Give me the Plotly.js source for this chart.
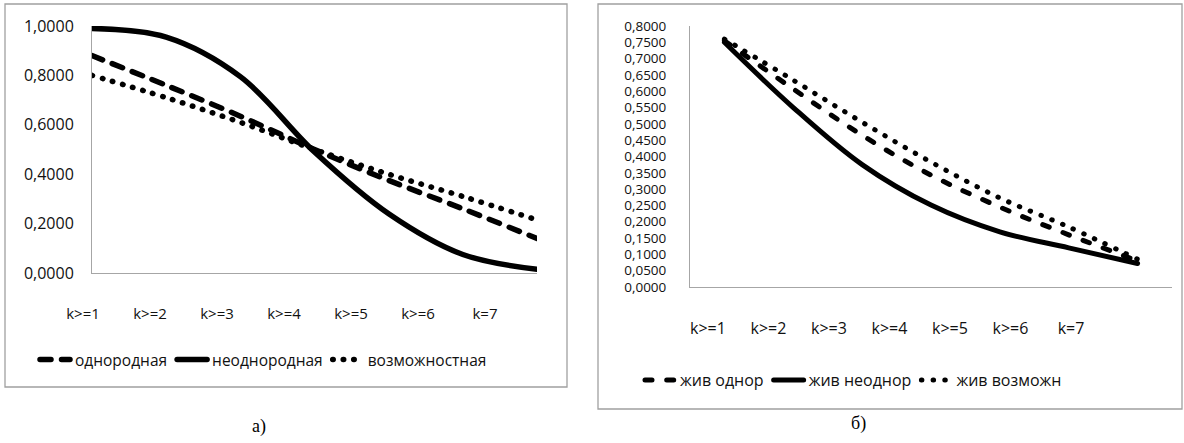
<!DOCTYPE html>
<html><head><meta charset="utf-8">
<script src="https://cdn.plot.ly/plotly-3.0.1.min.js"></script>
<style>
html,body{margin:0;padding:0;background:#fff}
#chart{width:1184px;height:443px}
path.js-line, .legendlines path{stroke-linecap:round !important;stroke-linejoin:round !important}
</style></head><body>
<div id="chart"></div>
<script>
// categories (x axis)
const categories = ['k>=1','k>=2','k>=3','k>=4','k>=5','k>=6','k=7'];
// chart a)
const namesA = ['однородная','неоднородная','возможностная'];
const homogeneous   = [0.880, 0.760, 0.635, 0.500, 0.375, 0.260, 0.140];
const heterogeneous = [0.990, 0.955, 0.795, 0.490, 0.240, 0.075, 0.015];
const possibilistic = [0.800, 0.710, 0.610, 0.500, 0.400, 0.310, 0.215];
// chart б)
const namesB = ['жив однор','жив неоднор','жив возможн'];
const survHomogeneous   = [0.755, 0.607, 0.465, 0.343, 0.245, 0.160, 0.080];
const survHeterogeneous = [0.750, 0.550, 0.375, 0.251, 0.169, 0.120, 0.072];
const survPossibilistic = [0.760, 0.634, 0.505, 0.383, 0.273, 0.184, 0.085];

const idx = categories.map((c,i)=>i);
const W = 1184, H = 443;
const px = v => v / W, py = v => 1 - v / H;

function line(name, y, xa, ya, dash, width, leg){
  return {x: idx, y: y, name: name, type:'scatter', mode:'lines', xaxis: xa, yaxis: ya,
    line:{color:'#000', width: width, dash: dash, shape:'spline', smoothing:1},
    legend: leg, hoverinfo:'skip'};
}
const dummy = (xa, ya) => ({x: idx, y: idx.map(()=>null), xaxis: xa, yaxis: ya, type:'scatter',
  mode:'lines', showlegend:false, hoverinfo:'skip'});

const data = [
  line(namesA[0], homogeneous,   'x','y','11px,10.5px',5.5,'legend'),
  line(namesA[1], heterogeneous, 'x','y','solid',5.5,'legend'),
  line(namesA[2], possibilistic, 'x','y','0.5px,10px',5.5,'legend'),
  dummy('x3','y'),
  line(namesB[0], survHomogeneous,   'x2','y2','7px,14.7px',5,'legend2'),
  line(namesB[1], survHeterogeneous, 'x2','y2','solid',5,'legend2'),
  line(namesB[2], survPossibilistic, 'x2','y2','0.5px,11.2px',5,'legend2'),
  dummy('x4','y2')
];

const axLine = '#a6a6a6';
const txt = '#111';
const base = {showgrid:false, zeroline:false, fixedrange:true};
const layout = {
  width: W, height: H, margin:{l:0,r:0,t:0,b:0},
  paper_bgcolor:'#fff', plot_bgcolor:'rgba(0,0,0,0)',
  separators: ', ',
  font:{family:'Open Sans, sans-serif', color: txt},
  xaxis: Object.assign({}, base, {domain:[px(92), px(537)], range:[0,6], anchor:'y',
    showline:true, linecolor:axLine, linewidth:1, showticklabels:false, ticks:''}),
  yaxis: Object.assign({}, base, {domain:[py(273), py(26)], range:[0,1], anchor:'x',
    dtick:0.2, tick0:0, tickformat:'.4f', showline:true, linecolor:axLine, linewidth:1,
    ticks:'', ticklabelstandoff:14, tickfont:{family:'Open Sans', size:16, color:txt}}),
  xaxis3: Object.assign({}, base, {domain:[px(50), px(540)], range:[-0.4925, 6.821], anchor:'y',
    tickvals: idx, ticktext: categories, showline:false, ticks:'', ticklabelstandoff:30,
    tickfont:{family:'Open Sans', size:15, color:txt}}),
  xaxis2: Object.assign({}, base, {domain:[px(690), px(1172)], range:[-0.5,6.5], anchor:'y2',
    showline:true, linecolor:axLine, linewidth:1, showticklabels:false, ticks:''}),
  yaxis2: Object.assign({}, base, {domain:[py(287), py(26)], range:[0,0.8], anchor:'x2',
    dtick:0.05, tick0:0, tickformat:'.4f', showline:true, linecolor:axLine, linewidth:1,
    ticks:'', ticklabelstandoff:20, tickfont:{family:'Open Sans', size:13.5, color:txt}}),
  xaxis4: Object.assign({}, base, {domain:[px(660), px(1180)], range:[-0.793, 7.802], anchor:'y2',
    tickvals: idx, ticktext: categories, showline:false, ticks:'', ticklabelstandoff:30,
    tickfont:{family:'Open Sans', size:16, color:txt}}),
  legend:{orientation:'h', x: px(35), y: py(360), xanchor:'left', yanchor:'middle',
    bgcolor:'rgba(0,0,0,0)', font:{family:'Open Sans', size:15.5, color:txt}},
  legend2:{orientation:'h', x: px(640), y: py(380), xanchor:'left', yanchor:'middle',
    bgcolor:'rgba(0,0,0,0)', font:{family:'Open Sans', size:16, color:txt}},
  shapes:[
    {type:'rect', xref:'paper', yref:'paper', x0:px(5), x1:px(567), y0:py(387), y1:py(4),
      line:{color:'#a0a0a0', width:1.3}},
    {type:'rect', xref:'paper', yref:'paper', x0:px(598), x1:px(1182), y0:py(409), y1:py(4),
      line:{color:'#a0a0a0', width:1.3}}
  ],
  annotations:[
    {text:'а)', xref:'paper', yref:'paper', x:px(259), y:py(426), showarrow:false,
      xanchor:'center', yanchor:'middle', font:{family:'Liberation Serif', size:18, color:'#000'}},
    {text:'б)', xref:'paper', yref:'paper', x:px(858), y:py(423), showarrow:false,
      xanchor:'center', yanchor:'middle', font:{family:'Liberation Serif', size:18, color:'#000'}}
  ]
};
Plotly.newPlot('chart', data, layout, {staticPlot:true, displayModeBar:false});
</script>
</body></html>
